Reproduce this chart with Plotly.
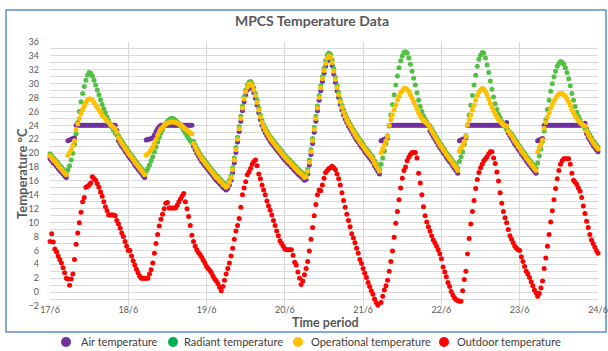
import pandas as pd
import plotly.graph_objects as go

title_text = "MPCS Temperature Data"
y_title = "Temperature °C"
x_title = "Time period"
series_names = ["Air temperature", "Radiant temperature", "Operational temperature", "Outdoor temperature"]
series_colors = ["#7030A0", "#52C043", "#FFC000", "#FF0000"]
legend_colors = ["#7030A0", "#00B050", "#FFC000", "#FF0000"]
x_tick_labels = ["17/6", "18/6", "19/6", "20/6", "21/6", "22/6", "23/6", "24/6"]
x_tick_dates = ["2021-06-17", "2021-06-18", "2021-06-19", "2021-06-20",
                "2021-06-21", "2021-06-22", "2021-06-23", "2021-06-24"]

# half-hourly readings, 17/6 00:00 .. 24/6 00:00
times = pd.date_range("2021-06-17 00:00", "2021-06-24 00:00", freq="30min")

air_temp = [
    19.2, 18.9, 18.6, 18.4, 18.1, 17.8, 17.5, 17.3, 17.0, 16.7, 16.5,
    21.8, 21.9, 22.0, 22.1, 22.2,
    24.0, 24.0, 24.0, 24.0, 24.0, 24.0, 24.0, 24.0, 24.0, 24.0, 24.0, 24.0, 24.0,
    24.0, 24.0, 24.0, 24.0, 24.0, 24.0, 24.0, 24.0, 24.0, 24.0, 24.0, 24.0,
    23.3,
    21.8, 21.4, 21.0, 20.7, 20.3, 20.0, 19.6, 19.3, 19.0, 18.7, 18.3, 18.0, 17.7, 17.4, 17.1, 16.8, 16.5,
    21.9, 22.0, 22.0, 22.1, 22.2, 22.6, 23.1, 23.5, 23.8,
    24.0, 24.0, 24.0, 24.0, 24.0, 24.0, 24.0, 24.0, 24.0, 24.0,
    24.0, 24.0, 24.0, 24.0, 24.0, 24.0, 24.0, 24.0, 24.0, 24.0,
    21.0, 20.5, 20.0, 19.6, 19.2, 18.8, 18.5, 18.2, 17.9, 17.6, 17.3, 17.0, 16.7, 16.4, 16.1, 15.9,
    15.6, 15.4, 15.1, 14.9, 14.7,
    14.9, 15.4, 16.1, 17.2, 18.6, 20.1, 21.6, 23.1, 24.6, 26.1, 27.4, 28.4, 29.1, 29.5, 29.6, 29.3,
    28.7, 27.9, 26.9, 25.8, 24.8, 24.0, 23.4, 22.9, 22.5, 22.1, 21.7, 21.4, 21.1, 20.8, 20.5, 20.2,
    19.9, 19.6, 19.3,
    19.0, 18.8, 18.5, 18.3, 18.0, 17.8, 17.5, 17.3, 17.0, 16.8, 16.6, 16.4, 16.1, 16.2,
    17.0, 18.3, 19.8, 21.4, 23.0, 24.6, 26.1, 27.6, 29.0, 30.3, 31.5, 32.5, 33.3, 33.6, 33.4, 32.6,
    31.4, 30.2, 29.0, 28.0, 27.0, 26.2, 25.5, 24.9, 24.4, 23.9, 23.5, 23.1, 22.7, 22.3, 21.9, 21.6,
    21.2, 20.9, 20.6, 20.2, 19.9, 19.6, 19.3, 19.0, 18.7, 18.2, 17.8, 17.4, 17.0,
    21.8, 21.9, 22.0, 22.1, 22.2,
    24.0, 24.0, 24.0, 24.0, 24.0, 24.0, 24.0, 24.0, 24.0, 24.0, 24.0, 24.0, 24.0,
    24.0, 24.0, 24.0, 24.0, 24.0, 24.0, 24.0, 24.0, 24.0, 24.0, 24.0, 24.0,
    23.2, 22.8, 22.4, 22.0, 21.6, 21.2, 20.8, 20.5, 20.1, 19.8, 19.4, 19.1, 18.8, 18.5, 18.1, 17.8,
    17.5, 17.1,
    21.8, 21.9, 22.0, 22.1, 22.2,
    24.0, 24.0, 24.0, 24.0, 24.0, 24.0, 24.0, 24.0, 24.0, 24.0, 24.0, 24.0,
    24.0, 24.0, 24.0, 24.0, 24.0, 24.0, 24.0, 24.0, 24.0, 24.0, 24.0, 24.0,
    24.4,
    22.9, 22.5, 22.1, 21.7, 21.3, 21.0, 20.6, 20.3, 19.9, 19.6, 19.3, 18.9, 18.6, 18.3, 18.0, 17.7,
    17.4, 17.1,
    21.8, 21.9, 22.0, 22.1,
    24.0, 24.0, 24.0, 24.0, 24.0, 24.0, 24.0, 24.0, 24.0, 24.0, 24.0, 24.0, 24.0,
    24.0, 24.0, 24.0, 24.0, 24.0, 24.0, 24.0, 24.0, 24.0, 24.0, 24.0, 24.0,
    24.3,
    22.8, 22.3, 21.9, 21.5, 21.1, 20.8, 20.5, 20.2,
]

radiant_temp = [
    19.9, 19.6, 19.3, 19.1, 18.8, 18.5, 18.2, 18.0, 17.7, 17.4, 17.2,
    17.6, 18.2, 19.0, 20.0, 21.3, 22.8, 24.4, 26.0, 27.4, 28.6, 29.6, 30.5, 31.2, 31.6, 31.5,
    31.1, 30.5, 29.8, 29.1, 28.4, 27.7, 27.0, 26.4, 25.8, 25.2, 24.7, 24.2, 23.7, 23.3, 22.9,
    22.6,
    22.5, 22.1, 21.7, 21.4, 21.0, 20.7, 20.3, 20.0, 19.7, 19.4, 19.0, 18.7, 18.4, 18.1, 17.8, 17.5, 17.2,
    17.4, 17.8, 18.3, 18.9, 19.5, 20.2, 20.9, 21.6, 22.3, 22.9,
    23.4, 23.9, 24.3, 24.6, 24.8, 25.0, 25.0, 24.9, 24.7, 24.5,
    24.3, 24.0, 23.7, 23.3, 22.9, 22.5, 22.1, 21.8, 21.5,
    21.7, 21.2, 20.7, 20.3, 19.9, 19.5, 19.2, 18.9, 18.6, 18.3, 18.0, 17.7, 17.4, 17.1, 16.8, 16.6,
    16.3, 16.1, 15.8, 15.6, 15.4,
    15.6, 16.1, 16.8, 17.9, 19.3, 20.8, 22.3, 23.8, 25.3, 26.8, 28.1, 29.1, 29.8, 30.2, 30.3, 30.0,
    29.4, 28.6, 27.6, 26.5, 25.5, 24.7, 24.1, 23.6, 23.2, 22.8, 22.4, 22.1, 21.8, 21.5, 21.2, 20.9,
    20.6, 20.3, 20.0,
    19.7, 19.5, 19.2, 19.0, 18.7, 18.5, 18.2, 18.0, 17.7, 17.5, 17.3, 17.1, 16.8, 16.9,
    17.7, 19.0, 20.5, 22.1, 23.7, 25.3, 26.8, 28.3, 29.7, 31.0, 32.2, 33.3, 34.1, 34.4, 34.2, 33.4,
    32.2, 30.9, 29.7, 28.7, 27.7, 26.9, 26.2, 25.6, 25.1, 24.6, 24.2, 23.8, 23.4, 23.0, 22.6, 22.3,
    21.9, 21.6, 21.3, 20.9, 20.6, 20.3, 20.0, 19.7, 19.4, 18.9, 18.5, 18.1, 17.7,
    18.4, 19.3, 20.3, 21.4, 22.5, 23.9, 25.5, 27.0, 28.4, 29.8, 31.1, 32.3, 33.3, 34.0, 34.5,
    34.6, 34.4, 33.7, 32.8, 31.8, 30.8, 29.8, 28.7, 27.6, 26.7, 26.0, 25.4, 24.9, 24.5, 24.1,
    23.9, 23.5, 23.1, 22.7, 22.3, 21.9, 21.5, 21.2, 20.8, 20.5, 20.1, 19.8, 19.5, 19.2, 18.8, 18.5,
    18.2, 17.8,
    18.8, 19.5, 20.2, 21.3, 22.5, 24.1, 25.5, 26.9, 28.3, 29.8, 31.2, 32.5, 33.5, 34.1, 34.5,
    34.4, 33.7, 32.7, 31.6, 30.4, 29.2, 28.1, 27.1, 26.3, 25.6, 25.1, 24.6, 24.2, 23.8, 23.4,
    23.3, 23.0, 22.8, 22.4, 22.0, 21.7, 21.3, 21.0, 20.6, 20.3, 20.0, 19.6, 19.3, 19.0, 18.7, 18.4,
    18.1, 17.8,
    18.6, 19.6, 20.6, 21.7, 23.2, 24.8, 26.3, 27.6, 28.9, 30.0, 31.0, 31.8, 32.5, 32.9, 33.2,
    33.1, 32.8, 32.3, 31.6, 30.7, 29.7, 28.6, 27.6, 26.7, 25.9, 25.3, 24.8, 24.3, 23.9, 23.5,
    23.5, 23.0, 22.6, 22.2, 21.8, 21.5, 21.2, 20.9,
]

operational_temp = [
    19.6, 19.3, 19.0, 18.8, 18.5, 18.2, 17.9, 17.7, 17.4, 17.1, 16.9,
    19.7, 20.1, 20.5, 21.1, 21.8, 23.4, 24.2, 25.0, 25.7, 26.3, 26.8, 27.3, 27.6, 27.8, 27.8,
    27.6, 27.3, 26.9, 26.6, 26.2, 25.9, 25.5, 25.2, 24.9, 24.6, 24.4, 24.1, 23.9, 23.7, 23.5,
    23.0,
    22.2, 21.8, 21.4, 21.1, 20.7, 20.4, 20.0, 19.7, 19.4, 19.1, 18.7, 18.4, 18.1, 17.8, 17.5, 17.2, 16.9,
    19.7, 19.9, 20.2, 20.5, 20.9, 21.4, 22.0, 22.6, 23.1, 23.5,
    23.7, 24.0, 24.2, 24.3, 24.4, 24.5, 24.5, 24.5, 24.4, 24.3,
    24.2, 24.0, 23.9, 23.7, 23.5, 23.3, 23.1, 22.9, 22.8,
    21.4, 20.9, 20.4, 20.0, 19.6, 19.2, 18.9, 18.6, 18.3, 18.0, 17.7, 17.4, 17.1, 16.8, 16.5, 16.3,
    16.0, 15.8, 15.5, 15.3, 15.1,
    15.3, 15.8, 16.5, 17.6, 19.0, 20.5, 22.0, 23.5, 25.0, 26.5, 27.8, 28.8, 29.5, 29.9, 30.0, 29.7,
    29.1, 28.3, 27.3, 26.2, 25.2, 24.4, 23.8, 23.3, 22.9, 22.5, 22.1, 21.8, 21.5, 21.2, 20.9, 20.6,
    20.3, 20.0, 19.7,
    19.4, 19.2, 18.9, 18.7, 18.4, 18.2, 17.9, 17.7, 17.4, 17.2, 17.0, 16.8, 16.5, 16.6,
    17.4, 18.7, 20.2, 21.8, 23.4, 25.0, 26.5, 28.0, 29.4, 30.7, 31.9, 32.9, 33.7, 34.0, 33.8, 33.0,
    31.8, 30.6, 29.4, 28.4, 27.4, 26.6, 25.9, 25.3, 24.8, 24.3, 23.9, 23.5, 23.1, 22.7, 22.3, 22.0,
    21.6, 21.3, 21.0, 20.6, 20.3, 20.0, 19.7, 19.4, 19.1, 18.6, 18.2, 17.8, 17.4,
    20.1, 20.6, 21.2, 21.8, 22.4, 24.0, 24.8, 25.5, 26.2, 26.9, 27.6, 28.2, 28.7, 29.0, 29.3,
    29.3, 29.2, 28.9, 28.4, 27.9, 27.4, 26.9, 26.4, 25.8, 25.4, 25.0, 24.7, 24.5, 24.3, 24.1,
    23.6, 23.2, 22.8, 22.4, 22.0, 21.6, 21.2, 20.9, 20.5, 20.2, 19.8, 19.5, 19.2, 18.9, 18.5, 18.2,
    17.9, 17.5,
    20.3, 20.7, 21.1, 21.7, 22.4, 24.1, 24.8, 25.5, 26.2, 26.9, 27.6, 28.3, 28.8, 29.1, 29.3,
    29.2, 28.9, 28.4, 27.8, 27.2, 26.6, 26.1, 25.6, 25.2, 24.8, 24.6, 24.3, 24.1, 23.9, 23.9,
    23.2, 22.8, 22.5, 22.1, 21.7, 21.4, 21.0, 20.7, 20.3, 20.0, 19.7, 19.3, 19.0, 18.7, 18.4, 18.1,
    17.8, 17.5,
    20.2, 20.8, 21.3, 21.9, 23.6, 24.4, 25.2, 25.8, 26.5, 27.0, 27.5, 27.9, 28.3, 28.5, 28.6,
    28.6, 28.4, 28.2, 27.8, 27.4, 26.9, 26.3, 25.8, 25.4, 25.0, 24.7, 24.4, 24.2, 24.0, 23.9,
    23.2, 22.7, 22.3, 21.9, 21.5, 21.2, 20.9, 20.6,
]

outdoor_temp = [
    7.3, 8.4, 7.2, 6.2, 5.8, 5.2, 4.7, 4.2, 3.5, 2.8, 2.0, 1.9, 1.0, 1.9, 2.6, 4.7,
    6.9, 8.5, 10.0, 11.5, 13.0, 13.6, 15.1, 15.2, 15.4, 15.7, 16.6, 16.3, 16.1, 15.6, 15.1, 14.4,
    13.8, 13.0, 12.3, 11.7, 11.1, 11.1, 11.1, 11.1, 11.0, 10.3, 9.8, 9.2, 8.5, 8.0, 7.3, 6.6,
    6.0, 6.0, 5.2, 4.5, 3.9, 3.3, 2.8, 2.3, 2.0, 2.0, 2.0, 2.0, 2.0, 2.6, 3.2, 4.2,
    5.6, 7.0, 8.3, 9.5, 10.5, 11.2, 12.0, 12.8, 12.9, 12.1, 12.1, 12.1, 12.1, 12.1, 12.5, 13.0,
    13.4, 13.8, 14.2, 13.0, 12.0, 10.9, 9.6, 8.2, 7.3, 6.6, 6.1, 5.7, 5.4, 5.0, 4.6, 4.2,
    3.7, 3.4, 3.1, 2.8, 2.3, 1.9, 1.6, 1.2, 0.7, 0.2, 0.8, 1.7, 2.6, 3.4, 4.2, 5.2,
    6.3, 7.6, 8.8, 9.6, 10.6, 12.2, 14.0, 15.0, 15.9, 16.9, 17.3, 17.8, 18.4, 18.8, 19.0, 18.2,
    17.0, 16.3, 15.4, 14.7, 14.0, 13.1, 12.4, 11.8, 11.1, 10.3, 9.6, 8.8, 8.1, 7.4, 7.0, 6.6,
    6.2, 6.1, 6.1, 6.1, 6.1, 5.3, 4.3, 3.9, 2.9, 2.0, 1.1, 1.6, 2.5, 3.4, 4.4, 5.9,
    7.6, 9.3, 11.0, 12.6, 14.0, 14.7, 14.6, 15.4, 16.4, 17.2, 17.5, 17.8, 17.9, 18.1, 17.9, 17.6,
    17.0, 16.3, 15.4, 14.3, 13.2, 12.2, 11.2, 10.3, 9.4, 8.4, 7.8, 7.1, 6.3, 5.6, 4.7, 4.1,
    3.4, 2.7, 2.1, 1.4, 0.8, 0.2, -0.3, -1.0, -1.5, -1.9, -2.2, -1.5, -0.6, 0.3, 0.9, 1.7,
    3.0, 4.4, 5.9, 7.9, 9.9, 11.6, 13.3, 15.0, 16.4, 17.5, 18.0, 18.9, 19.4, 19.8, 20.1, 20.1,
    20.1, 19.3, 17.1, 15.7, 14.0, 12.3, 11.0, 10.1, 9.4, 8.8, 8.1, 7.5, 7.1, 6.6, 6.1, 5.5,
    4.8, 3.6, 2.9, 2.2, 1.4, 0.8, 0.1, -0.4, -0.8, -1.1, -1.2, -1.3, -1.3, 0.2, 1.8, 3.0,
    5.5, 7.7, 9.8, 11.6, 13.2, 14.9, 16.2, 17.2, 17.9, 18.4, 18.9, 19.2, 19.5, 19.9, 20.2, 20.2,
    19.3, 18.5, 17.3, 16.0, 14.3, 12.8, 11.6, 10.7, 10.0, 9.0, 8.1, 7.6, 7.1, 6.6, 6.3, 6.1,
    6.0, 5.1, 4.4, 3.7, 3.0, 2.6, 2.1, 1.5, 0.9, 0.3, -0.1, -0.6, -0.2, 0.6, 1.6, 3.4,
    4.9, 6.6, 8.3, 10.1, 11.7, 13.3, 14.9, 16.3, 17.5, 18.4, 18.9, 19.2, 19.2, 19.2, 19.2, 18.4,
    17.1, 16.1, 15.8, 15.5, 15.0, 14.5, 13.6, 12.4, 11.3, 10.2, 9.3, 8.3, 7.5, 7.0, 6.5, 6.0,
    5.6,
]

series_values = [air_temp, radiant_temp, operational_temp, outdoor_temp]

FONT = "Lato, 'Open Sans', sans-serif"
GRID = "#D9D9D9"
TXT = "#595959"

# plot area in pixels
PL, PR, PT, PB = 50, 598, 42, 306
PW, PH = PR - PL, PB - PT


def px(x):
    return (x - PL) / PW


def py(y):
    return (PB - y) / PH


fig = go.Figure()
for name, color, vals in zip(series_names, series_colors, series_values):
    fig.add_trace(go.Scatter(
        x=times, y=vals, mode="markers", name=name, showlegend=False,
        marker=dict(color=color, size=5, line=dict(width=0)),
        cliponaxis=False,
    ))

annotations = [
    dict(text=x_title, xref="paper", yref="paper", x=px(325), y=py(322),
         xanchor="center", yanchor="middle", showarrow=False,
         font=dict(family=FONT, size=12.5, color=TXT, weight=700)),
    dict(text=y_title, xref="paper", yref="paper", x=px(22), y=py(174),
         xanchor="center", yanchor="middle", showarrow=False, textangle=-90,
         font=dict(family=FONT, size=13, color=TXT, weight=700)),
]
shapes = [dict(type="rect", xref="paper", yref="paper",
               x0=px(6), x1=px(606), y0=py(332), y1=py(10),
               line=dict(color="#5B8FCB", width=1.5), fillcolor="rgba(0,0,0,0)", layer="below")]

# legend (manual, single row below the frame)
legend_marker_x = [66, 173, 298, 444]
legend_text_x = [79, 182, 309, 455]
LEG_Y = 342
for name, color, mx, tx in zip(series_names, legend_colors, legend_marker_x, legend_text_x):
    shapes.append(dict(type="circle", xref="paper", yref="paper",
                       x0=px(mx - 5), x1=px(mx + 5), y0=py(LEG_Y + 5), y1=py(LEG_Y - 5),
                       line=dict(width=0), fillcolor=color, layer="above"))
    annotations.append(dict(text=name, xref="paper", yref="paper", x=px(tx), y=py(LEG_Y),
                            xanchor="left", yanchor="middle", showarrow=False,
                            font=dict(family=FONT, size=11, color="#404040")))

fig.update_layout(
    width=608, height=351,
    margin=dict(l=PL, r=608 - PR, t=PT, b=351 - PB, autoexpand=False),
    paper_bgcolor="white", plot_bgcolor="white",
    font=dict(family=FONT, color=TXT, size=9),
    showlegend=False,
    title=dict(text=title_text, x=(312 / 608), xanchor="center", y=1 - 21 / 351, yanchor="middle",
               font=dict(family=FONT, size=14, color=TXT, weight=700)),
    xaxis=dict(
        type="date", range=["2021-06-17", "2021-06-24"],
        tickvals=x_tick_dates, ticktext=x_tick_labels,
        showgrid=True, gridcolor=GRID, gridwidth=1,
        zeroline=False, showline=False, ticks="",
        ticklabelstandoff=-3,
        tickfont=dict(family=FONT, size=9, color=TXT),
        automargin=False,
    ),
    yaxis=dict(
        range=[-2, 36], tick0=0, dtick=2,
        showgrid=True, gridcolor=GRID, gridwidth=1,
        minor=dict(dtick=1, showgrid=True, gridcolor=GRID, gridwidth=1),
        zeroline=False, showline=False, ticks="",
        ticklabelstandoff=10,
        tickfont=dict(family=FONT, size=9, color=TXT),
        automargin=False,
    ),
    shapes=shapes,
    annotations=annotations,
)

fig.write_html("out.html")
